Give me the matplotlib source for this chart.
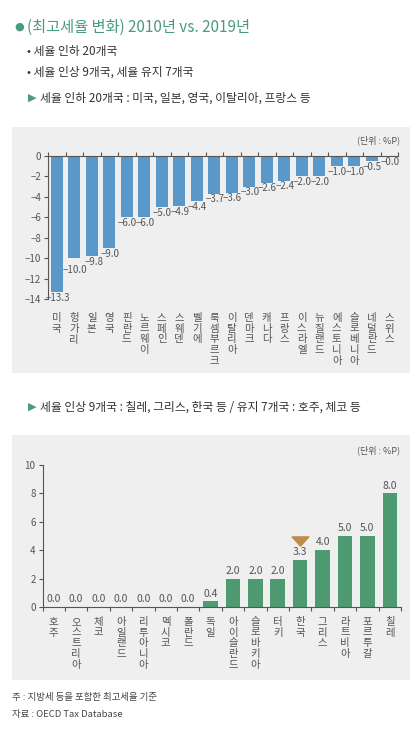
import matplotlib
matplotlib.use("Agg")
import matplotlib.pyplot as plt
from matplotlib.patches import Rectangle
from matplotlib.path import Path
import matplotlib.transforms as mtransforms
import numpy as np

plt.rcParams['font.family'] = ['Noto Sans CJK KR', 'DejaVu Sans']
plt.rcParams['axes.unicode_minus'] = True

# ---- data ----
cut_countries = ['미국', '헝가리', '일본', '영국', '핀란드', '노르웨이', '스페인', '스웨덴', '벨기에',
                 '룩셈부르크', '이탈리아', '덴마크', '캐나다', '프랑스', '이스라엘', '뉴질랜드',
                 '에스토니아', '슬로베니아', '네덜란드', '스위스']
cut_values = [-13.3, -10.0, -9.8, -9.0, -6.0, -6.0, -5.0, -4.9, -4.4, -3.7, -3.6, -3.0, -2.6,
              -2.4, -2.0, -2.0, -1.0, -1.0, -0.5, -0.0]
cut_yticks = [0, -2, -4, -6, -8, -10, -12, -14]

rise_countries = ['호주', '오스트리아', '체코', '아일랜드', '리투아니아', '멕시코', '폴란드', '독일',
                  '아이슬란드', '슬로바키아', '터키', '한국', '그리스', '라트비아', '포르투갈', '칠레']
rise_values = [0.0, 0.0, 0.0, 0.0, 0.0, 0.0, 0.0, 0.4, 2.0, 2.0, 2.0, 3.3, 4.0, 5.0, 5.0, 8.0]
rise_yticks = [0, 2, 4, 6, 8, 10]
highlight = '한국'

title_dot = '●'
title = '(최고세율 변화) 2010년 vs. 2019년'
bullet1 = '• 세율 인하 20개국'
bullet2 = '• 세율 인상 9개국, 세율 유지 7개국'
head1 = '▶'
head1_text = '세율 인하 20개국 : 미국, 일본, 영국, 이탈리아, 프랑스 등'
head2_text = '세율 인상 9개국 : 칠레, 그리스, 한국 등 / 유지 7개국 : 호주, 체코 등'
unit = '(단위 : %P)'
note1 = '주 : 지방세 등을 포함한 최고세율 기준'
note2 = '자료 : OECD Tax Database'

W, H = 419, 730
BLUE = '#5a98c9'
GREEN = '#4e9a72'
TGREEN = '#4a9a7e'
GREY = '#555555'
BG = '#efefef'
ARROW = '#c08a4a'

fig = plt.figure(figsize=(W / 100, H / 100), dpi=100)
fig.patch.set_facecolor('white')

def fx(x):
    return x / W

def fy(y):
    return 1 - y / H

# backgrounds
fig.patches.append(Rectangle((fx(12), fy(373)), 398 / W, 246 / H, transform=fig.transFigure,
                             facecolor=BG, edgecolor='none', zorder=-10))
fig.patches.append(Rectangle((fx(12), fy(680)), 398 / W, 245 / H, transform=fig.transFigure,
                             facecolor=BG, edgecolor='none', zorder=-10))

# header texts
fig.text(fx(14), fy(27), title_dot, color=TGREEN, fontsize=8, va='center', ha='left',
         family=['DejaVu Sans'])
fig.text(fx(27), fy(27), title, color=TGREEN, fontsize=11, va='center', ha='left',
         fontweight='medium')
fig.text(fx(27), fy(52), bullet1, color='#333333', fontsize=8.5, va='center', ha='left')
fig.text(fx(27), fy(72), bullet2, color='#333333', fontsize=8.5, va='center', ha='left')
fig.text(fx(28), fy(98), head1, color=TGREEN, fontsize=8, va='center', ha='left',
         family=['DejaVu Sans'])
fig.text(fx(40), fy(98), head1_text, color='#333333', fontsize=8.5, va='center', ha='left')
fig.text(fx(28), fy(407), head1, color=TGREEN, fontsize=8, va='center', ha='left',
         family=['DejaVu Sans'])
fig.text(fx(40), fy(407), head2_text, color='#333333', fontsize=8.5, va='center', ha='left')
fig.text(fx(400), fy(140), unit, color=GREY, fontsize=6.5, va='center', ha='right')
fig.text(fx(400), fy(450), unit, color=GREY, fontsize=6.5, va='center', ha='right')
fig.text(fx(12), fy(697), note1, color='#444444', fontsize=6.8, va='center', ha='left')
fig.text(fx(12), fy(714), note2, color='#444444', fontsize=6.8, va='center', ha='left')

def fmt(v):
    return f'{v:.1f}'.replace('-', '\u2212')

def vert(s):
    return '\n'.join(list(s))

# ---- panel 1 ----
ax1 = fig.add_axes([fx(48), fy(299), 350 / W, 143 / H])
ax1.set_facecolor('none')
x1 = np.arange(len(cut_countries))
ax1.bar(x1, cut_values, width=0.71, color=BLUE, zorder=2)
ax1.set_xlim(-0.5, len(cut_countries) - 0.5)
ax1.set_ylim(-14, 0)
ax1.set_yticks(cut_yticks)
ax1.set_yticklabels([fmt(t).replace('.0', '') for t in cut_yticks])
for sp in ['right', 'bottom']:
    ax1.spines[sp].set_visible(False)
for sp in ['left', 'top']:
    ax1.spines[sp].set_color(GREY)
    ax1.spines[sp].set_linewidth(0.8)
ax1.tick_params(axis='y', length=3, width=0.8, color=GREY, labelcolor=GREY, labelsize=7, pad=2)
ax1.set_xticks(x1)
ax1.set_xticklabels([vert(c) for c in cut_countries], fontsize=7.5, color=GREY, linespacing=1.1)
ax1.tick_params(axis='x', which='major', length=0, pad=10)
ax1.set_xticks(np.arange(-0.5, len(cut_countries), 1), minor=True)
ax1.tick_params(axis='x', which='minor', top=True, bottom=False, length=3, width=0.8,
                color=GREY, direction='out')
for i, (xi, v) in enumerate(zip(x1, cut_values)):
    dy = -5.0 if i == 1 else -0.5   # push the Hungary label down so it clears Japan's
    dx = 1.5 if i == 2 else 0.5
    ax1.annotate(fmt(v), (xi, v), xytext=(dx, dy), textcoords='offset points',
                 ha='center', va='top', fontsize=7, color=GREY, zorder=3)

# ---- panel 2 ----
ax2 = fig.add_axes([fx(42.5), fy(607), 358.5 / W, 142 / H])
ax2.set_facecolor('none')
x2 = np.arange(len(rise_countries))
ax2.bar(x2, rise_values, width=0.65, color=GREEN, zorder=2)
ax2.set_xlim(-0.5, len(rise_countries) - 0.5)
ax2.set_ylim(0, 10)
ax2.set_yticks(rise_yticks)
ax2.set_yticklabels([str(t) for t in rise_yticks])
for sp in ['right', 'top']:
    ax2.spines[sp].set_visible(False)
for sp in ['left', 'bottom']:
    ax2.spines[sp].set_color(GREY)
    ax2.spines[sp].set_linewidth(0.8)
ax2.tick_params(axis='y', length=3, width=0.8, color=GREY, labelcolor=GREY, labelsize=7, pad=2)
ax2.set_xticks(x2)
ax2.set_xticklabels([vert(c) for c in rise_countries], fontsize=7.5, color=GREY, linespacing=1.1)
ax2.tick_params(axis='x', which='major', length=0, pad=7)
ax2.set_xticks(np.arange(-0.5, len(rise_countries), 1), minor=True)
ax2.tick_params(axis='x', which='minor', length=3, width=0.8, color=GREY, direction='out')

tri = Path([(-1.0, 0.55), (1.0, 0.55), (0.0, -0.55), (-1.0, 0.55)],
           [Path.MOVETO, Path.LINETO, Path.LINETO, Path.CLOSEPOLY])
tri_trans = mtransforms.offset_copy(ax2.transData, fig=fig, x=0, y=19, units='dots')
for xi, v, c in zip(x2, rise_values, rise_countries):
    ax2.annotate(fmt(v), (xi, v), xytext=(0, 2), textcoords='offset points',
                 ha='center', va='bottom', fontsize=7.5, color=GREY, zorder=3)
    if c == highlight:
        ax2.plot([xi], [v], marker=tri, markersize=12, color=ARROW, linestyle='none',
                 transform=tri_trans, zorder=3, clip_on=False)

fig.savefig('out.png', dpi=100, facecolor='white')
